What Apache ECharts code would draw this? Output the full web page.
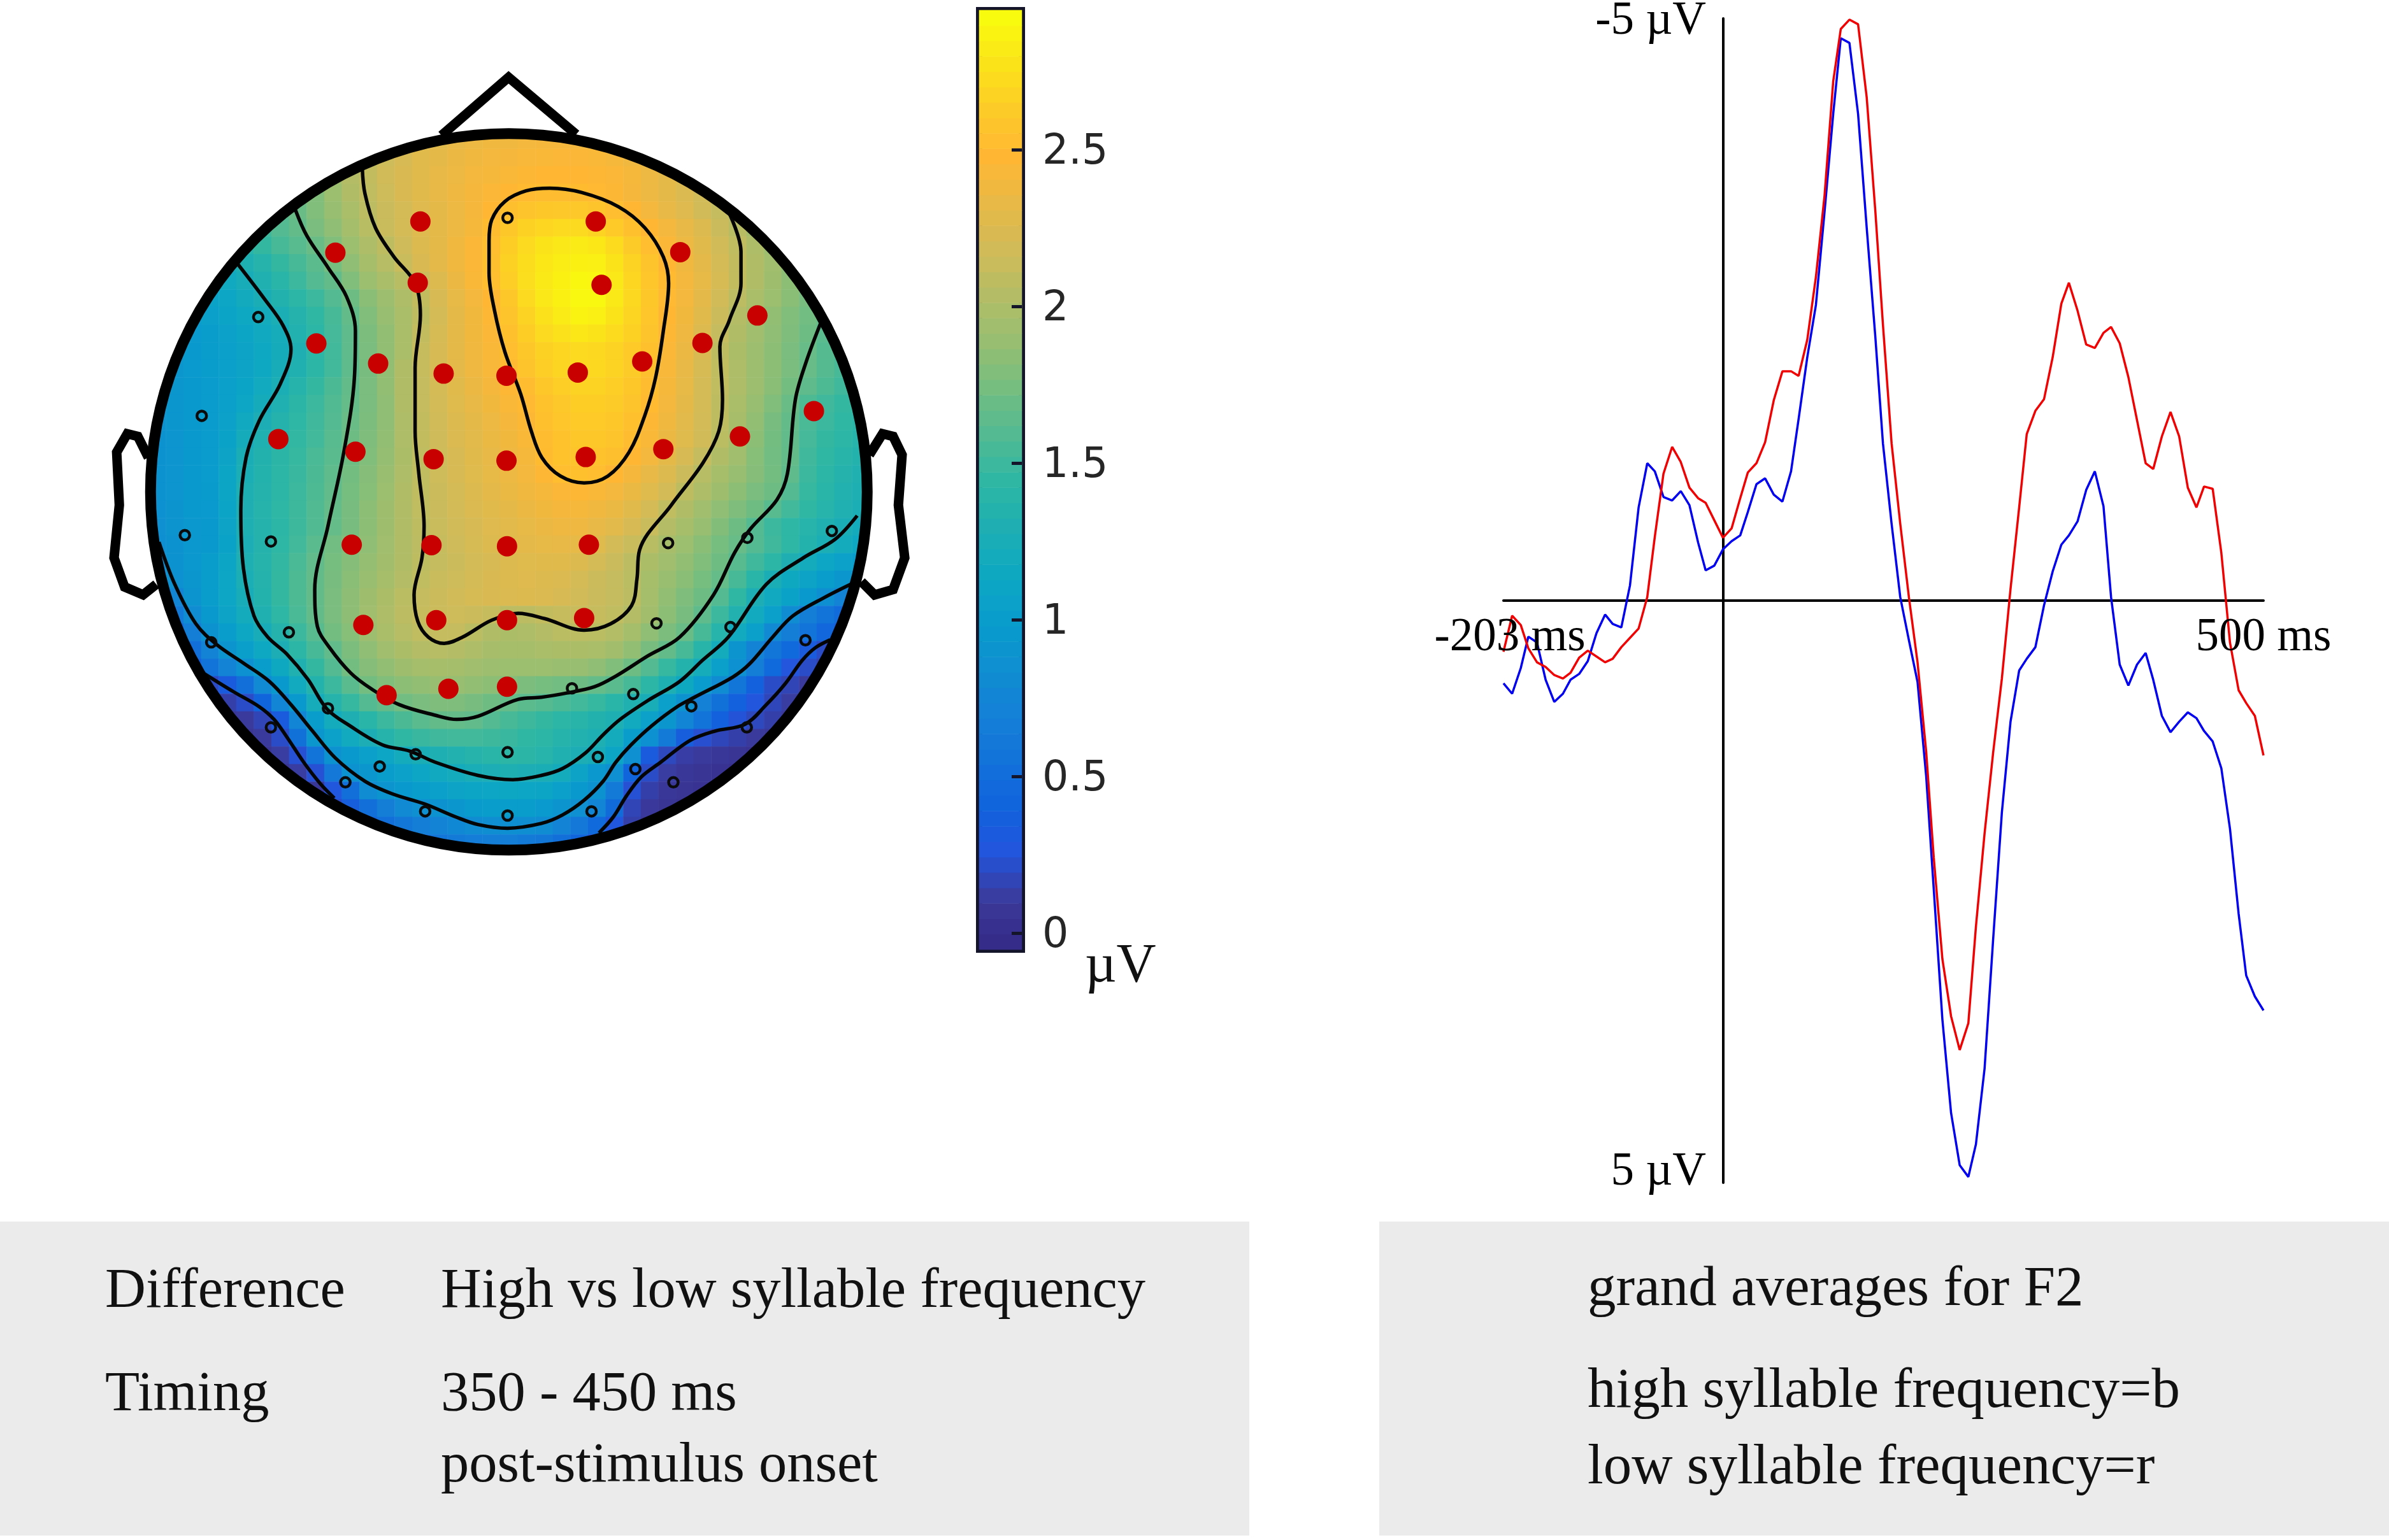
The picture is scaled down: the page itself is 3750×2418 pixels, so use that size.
<!DOCTYPE html>
<html><head><meta charset="utf-8">
<script src="https://cdn.jsdelivr.net/npm/echarts@6/dist/echarts.min.js"></script>
<style>html,body{margin:0;padding:0;background:#fff}#c{width:3750px;height:2418px}</style>
</head><body><div id="c"></div>
<script>
// ---------- ERP traces (µV, negative up) ----------
const times=[-203,-195,-187,-180,-172,-164,-156,-148,-141,-133,-125,-117,-109,-102,-94,-86,-78,-70,-63,-55,-47,-39,-31,-23,-16,-8,0,8,16,23,31,39,47,55,63,70,78,86,94,102,109,117,125,133,141,148,156,164,172,180,188,195,203,211,219,227,234,242,250,258,266,274,281,289,297,305,313,320,328,336,344,352,359,367,375,383,391,398,406,414,422,430,438,445,453,461,469,477,484,492,500];
const lowFreq=[0.44,0.13,0.21,0.41,0.53,0.57,0.64,0.67,0.62,0.49,0.43,0.48,0.53,0.50,0.40,0.32,0.24,-0.03,-0.55,-1.09,-1.32,-1.19,-0.97,-0.88,-0.84,-0.69,-0.54,-0.62,-0.88,-1.10,-1.18,-1.36,-1.72,-1.97,-1.97,-1.93,-2.24,-2.78,-3.48,-4.46,-4.91,-4.99,-4.95,-4.32,-3.34,-2.37,-1.35,-0.66,-0.03,0.53,1.30,2.21,3.08,3.57,3.86,3.63,2.80,2.00,1.30,0.67,-0.10,-0.80,-1.43,-1.63,-1.73,-2.09,-2.55,-2.73,-2.49,-2.20,-2.17,-2.30,-2.35,-2.21,-1.92,-1.55,-1.18,-1.13,-1.41,-1.62,-1.41,-0.97,-0.80,-0.98,-0.96,-0.41,0.36,0.77,0.88,0.99,1.33];
const highFreq=[0.71,0.80,0.58,0.31,0.36,0.68,0.87,0.80,0.68,0.63,0.52,0.28,0.12,0.20,0.23,-0.13,-0.80,-1.18,-1.11,-0.89,-0.86,-0.94,-0.82,-0.50,-0.26,-0.30,-0.44,-0.51,-0.56,-0.76,-1.00,-1.05,-0.91,-0.85,-1.11,-1.56,-2.09,-2.54,-3.34,-4.18,-4.83,-4.79,-4.18,-3.20,-2.26,-1.35,-0.66,-0.03,0.34,0.70,1.51,2.48,3.60,4.40,4.85,4.95,4.67,4.02,2.90,1.82,1.04,0.60,0.50,0.40,0.04,-0.25,-0.48,-0.56,-0.68,-0.95,-1.11,-0.81,-0.03,0.55,0.73,0.55,0.45,0.68,0.99,1.13,1.04,0.96,1.01,1.12,1.21,1.44,1.96,2.69,3.22,3.40,3.52];
const timeLabels=[-203,500];
const voltLabels=[-5,5];
// ---------- Scalp field (hundredths of µV), rows top to bottom, each centred on the midline ----------
const fieldRows=[
[220,225,230,235,238,240,240,242,243,243,242,240,238],
[205,212,218,224,230,233,237,240,242,243,245,246,247,247,246,244,240,236,233],
[185,195,205,212,220,225,230,235,238,242,244,246,248,250,250,250,249,247,244,238,233,228,222],
[172,180,192,203,211,218,225,230,235,239,243,247,250,252,254,254,253,251,248,243,238,233,226,220,213],
[155,162,170,180,190,200,209,216,222,228,233,238,243,250,256,260,262,263,263,260,255,250,242,235,228,220,213,205,197],
[145,152,160,167,177,187,197,207,215,222,228,233,238,244,253,262,268,272,274,274,270,264,257,250,242,235,227,216,207,198,188],
[130,138,147,155,162,170,180,192,202,210,219,227,233,240,247,255,266,274,280,283,285,282,275,265,255,247,238,230,220,211,202,193,185],
[115,122,129,137,147,155,164,175,187,198,206,215,225,232,240,247,256,268,276,282,286,289,288,280,270,260,250,240,232,222,212,203,195,185,177],
[110,117,124,132,140,150,160,167,180,192,200,207,217,227,237,246,255,267,277,284,289,292,291,283,272,261,252,242,234,223,212,203,194,185,175],
[100,106,112,119,126,134,142,150,160,171,184,193,202,212,224,234,242,250,262,274,283,289,293,293,284,273,262,251,242,232,220,209,200,192,184,176,168],
[95,98,103,109,114,120,127,136,145,155,167,180,190,200,210,222,233,241,249,260,270,279,285,290,288,280,271,261,250,241,230,217,205,197,188,180,173,166,160],
[93,96,100,105,110,116,122,133,143,154,165,178,188,200,212,223,233,241,247,257,266,274,279,282,280,275,268,260,249,239,227,213,203,195,187,179,171,163,157],
[90,92,95,99,103,108,114,121,130,142,153,165,177,188,200,214,224,233,240,246,255,262,268,272,274,273,269,264,257,247,237,225,210,201,193,185,177,169,161,155,150],
[90,93,96,100,103,107,114,124,132,142,153,165,176,188,203,214,223,232,239,245,251,260,267,271,273,273,270,265,256,245,235,223,211,202,193,185,177,169,161,155,149],
[90,92,95,98,103,109,118,127,137,147,157,167,177,188,203,213,222,230,237,243,249,254,262,267,269,269,267,262,254,244,234,222,211,202,193,184,174,165,158,152,147],
[89,92,95,98,104,111,121,131,141,150,159,168,177,187,203,213,221,229,235,241,246,251,258,263,266,266,265,260,252,242,233,222,210,200,190,180,170,158,152,147,144],
[89,92,95,98,105,117,128,136,144,152,160,170,178,187,202,212,220,227,233,238,243,248,257,261,264,264,262,257,249,240,231,221,210,199,188,176,167,156,150,145,141],
[88,91,95,98,106,121,131,138,146,153,162,171,179,188,202,212,219,226,231,236,241,246,254,259,262,262,260,254,246,237,229,220,208,197,185,174,166,154,147,142,138],
[88,91,95,98,108,126,134,141,148,156,163,172,180,189,201,211,218,224,230,235,239,244,253,258,260,259,256,250,242,233,224,213,203,195,183,173,167,152,145,139,135],
[87,91,95,98,110,127,135,142,149,157,165,174,182,191,202,211,218,224,229,234,238,242,249,255,257,255,250,243,235,227,217,206,198,190,182,174,165,150,143,136,132],
[87,91,95,97,110,129,136,143,150,158,166,175,183,192,203,211,217,222,227,232,236,240,244,247,249,246,242,236,229,221,210,202,194,185,177,171,160,148,140,133,129],
[86,90,95,96,109,130,137,144,151,159,168,176,185,194,203,211,216,221,226,230,233,237,241,243,244,240,236,230,222,211,203,195,187,179,172,162,153,145,138,131,127],
[85,90,94,95,107,129,136,143,151,159,168,176,185,194,203,210,215,220,224,228,231,234,237,239,239,235,231,224,215,205,198,190,181,171,160,150,144,138,132,126,120],
[84,89,94,95,106,128,136,144,153,163,173,180,187,195,203,209,214,219,223,227,230,232,234,235,234,229,221,215,207,199,192,184,175,169,160,152,144,135,127,120,114],
[82,88,94,100,110,129,137,146,156,166,175,182,189,196,203,210,213,217,221,224,227,229,230,230,227,222,216,209,201,195,188,180,172,162,152,143,130,120,112,105,100],
[69,86,93,100,112,127,136,147,158,167,176,184,191,198,205,211,215,218,222,225,227,228,227,226,222,217,213,208,198,191,184,175,168,155,140,126,115,107,100,92,84],
[57,75,90,100,112,124,135,147,158,167,177,186,194,201,208,213,217,220,223,225,226,227,226,224,220,216,213,209,197,188,179,171,160,145,128,117,106,95,84,72,63],
[46,63,81,95,108,120,132,144,156,167,177,186,195,202,209,214,217,218,217,214,209,209,212,214,215,214,211,205,196,185,176,165,150,133,118,104,81,66,56,47,41],
[34,48,66,88,100,113,124,136,150,162,174,183,193,200,206,211,213,213,208,203,201,202,205,208,209,208,204,197,187,178,170,155,138,118,103,78,66,56,43,34,28],
[37,51,72,90,102,114,128,142,155,166,178,187,195,201,205,206,205,202,199,198,198,200,201,201,200,196,188,176,167,155,139,120,90,72,57,46,31,19,14],
[22,37,56,72,86,100,115,132,147,160,174,182,188,194,197,198,197,195,193,192,192,192,191,190,187,180,171,160,148,135,122,103,86,66,46,24,19,14,9],
[14,18,31,51,78,95,118,135,150,163,174,180,185,188,190,190,188,185,182,178,175,173,171,168,163,155,143,129,115,98,81,57,37,19,15,9,5],
[7,12,19,41,75,95,122,137,148,160,167,173,177,179,179,176,172,168,164,161,157,153,148,140,132,125,103,87,68,53,37,25,16,10,6],
[4,6,9,15,31,75,100,120,130,140,150,157,163,167,168,166,160,155,151,147,143,139,134,129,118,105,92,75,56,37,23,17,12,8,4],
[4,5,9,19,53,92,105,118,128,137,145,149,152,153,153,151,149,145,142,137,133,129,120,100,86,63,34,21,16,12,9,6,4],
[4,5,10,22,56,88,95,103,112,120,126,129,133,137,140,142,141,138,132,128,124,110,85,31,17,11,9,6,4,2,0],
[2,4,10,22,60,87,93,100,105,111,116,120,125,128,129,128,126,120,108,94,85,41,19,10,6,4,2,0,0],
[2,7,26,51,81,90,95,100,104,107,110,112,113,112,110,104,95,87,63,22,12,7,4,2,0],
[8,18,34,51,66,78,85,89,93,97,99,100,99,96,90,85,75,48,15,8,4,1,0],
[34,43,51,59,66,72,77,81,83,84,83,81,72,60,46,26,12,5,2],
[46,51,57,62,65,66,66,63,59,51,41,22,12]
];
// ---------- Contours and head outline, in scalp-map units ----------
const contourA=[[745,360],[750,320],[775,285],[815,265],[860,260],[920,268],[990,295],[1040,335],[1075,390],[1085,440],[1075,530],[1060,620],[1040,690],[1010,760],[970,805],[925,818],[880,805],[845,770],[825,720],[805,650],[775,570],[755,490],[745,420],[745,360]];
const contourB=[[505,222],[510,270],[530,335],[565,390],[605,440],[615,500],[605,600],[605,720],[612,800],[622,900],[618,960],[603,1030],[610,1080],[630,1110],[660,1122],[695,1110],[750,1078],[800,1065],[850,1075],[925,1097],[975,1085],[1015,1050],[1025,1000],[1030,945],[1090,860],[1150,780],[1180,720],[1187,660],[1182,560],[1200,510],[1222,440],[1222,380],[1200,308]];
const contourC=[[378,300],[400,350],[440,410],[475,465],[492,530],[490,620],[470,760],[440,900],[415,1020],[420,1090],[443,1130],[483,1178],[522,1208],[575,1238],[643,1258],[684,1266],[724,1260],[800,1228],[844,1224],[892,1216],[945,1204],[985,1184],[1045,1146],[1106,1110],[1170,1030],[1210,950],[1240,905],[1290,850],[1310,800],[1325,660],[1345,590],[1375,510]];
const contourD=[[268,402],[320,470],[355,520],[370,565],[350,630],[310,700],[285,770],[275,870],[280,980],[300,1070],[326,1110],[362,1142],[402,1190],[438,1246],[483,1279],[543,1314],[595,1326],[643,1347],[724,1372],[790,1380],[844,1372],[884,1359],[928,1329],[961,1295],[993,1266],[1046,1230],[1106,1194],[1149,1154],[1198,1110],[1270,1010],[1340,960],[1400,925],[1442,880]];
const contourE=[[120,930],[150,1010],[190,1085],[229,1124],[281,1160],[329,1194],[370,1238],[410,1287],[454,1339],[510,1383],[562,1407],[623,1426],[683,1451],[724,1465],[780,1472],[844,1463],[884,1447],[925,1419],[961,1383],[985,1347],[1013,1315],[1053,1278],[1101,1242],[1134,1224],[1206,1186],[1238,1161],[1282,1110],[1320,1070],[1380,1035],[1440,1005]];
const contourF1=[[207,1180],[262,1214],[310,1242],[338,1266],[362,1299],[394,1347],[425,1387],[452,1415]];
const contourF2=[[953,1481],[980,1451],[1005,1411],[1033,1375],[1070,1347],[1125,1306],[1173,1288],[1230,1275],[1270,1238],[1306,1198],[1338,1154],[1363,1130],[1391,1115]];
const nose=[[655,160],[782,50],[910,158]];
const earLeft=[[100,770],[80,730],[60,725],[40,760],[45,860],[35,960],[55,1015],[90,1030],[115,1010]];
const earRight=[[1465,765],[1490,725],[1510,730],[1527,765],[1520,860],[1532,960],[1510,1020],[1475,1030],[1450,1005]];
const headCentre=[[782.5,835]];
const sigElectrodes=[[615,323],[947,323],[454,382],[1107,381],[610,439],[958,443],[1253,501],[418,554],[1149,553],[535,592],[659,611],[778,615],[913,609],[1035,588],[1360,682],[346,735],[1220,730],[492,759],[640,773],[778,776],[928,769],[1075,754],[485,935],[636,936],[779,938],[934,935],[507,1087],[645,1078],[779,1078],[925,1074],[551,1220],[668,1208],[779,1204]];
const otherElectrodes=[[780,316],[308,504],[201,691],[169,917],[332,929],[366,1101],[219,1120],[1084,932],[1234,922],[1394,909],[1062,1084],[1202,1091],[1344,1116],[902,1207],[1018,1218],[1128,1241],[1233,1281],[440,1245],[332,1281],[606,1332],[780,1328],[951,1337],[1022,1360],[1094,1385],[538,1355],[473,1385],[624,1440],[780,1448],[939,1440]];
// ---------- Colour bar ----------
const barLevels=[-0.05,0,0.05,0.1,0.15,0.2,0.25,0.3,0.35,0.4,0.45,0.5,0.55,0.6,0.65,0.7,0.75,0.8,0.85,0.9,0.95,1,1.05,1.1,1.15,1.2,1.25,1.3,1.35,1.4,1.45,1.5,1.55,1.6,1.65,1.7,1.75,1.8,1.85,1.9,1.95,2,2.05,2.1,2.15,2.2,2.25,2.3,2.35,2.4,2.45,2.5,2.55,2.6,2.65,2.7,2.75,2.8,2.85,2.9,2.95];
const barTicks=[0,0.5,1,1.5,2,2.5];
const parula=['#352a87','#3a3a9c','#2355dd','#1063dc','#1272d9','#1481d6','#0e8fd1','#099dcc','#0ea8c2','#1eafb3','#2eb7a4','#52ba92','#75bd80','#96be71','#b3bd65','#d1bb59','#e8b946','#ffb733','#fdcb27','#fbe31a','#f9fb0e'];

const SERIF='"Liberation Serif"';
const heatCells=[];
fieldRows.forEach((row,r)=>{const s=(41-row.length)>>1;row.forEach((v,i)=>heatCells.push([s+i,r,v/100]));});
const idx=n=>Array.from({length:n},(_,i)=>i);
const outline=(data,w)=>({type:'line',xAxisIndex:1,yAxisIndex:1,data,symbol:'none',silent:true,z:6,lineStyle:{color:'#000',width:w,join:'miter',cap:'butt'}});
const contour=d=>({type:'line',xAxisIndex:1,yAxisIndex:1,data:d,symbol:'none',smooth:0.35,silent:true,z:5,lineStyle:{color:'#050505',width:5.5}});
const txt=(text,x,y,size)=>({type:'text',x,y,z:10,style:{text,fontFamily:SERIF,fontSize:size,fill:'#111',verticalAlign:'middle',align:'left'}});
const erpLabel=(data,position,distance,fmt)=>({type:'scatter',xAxisIndex:3,yAxisIndex:4,data,symbolSize:1,clip:false,silent:true,z:8,itemStyle:{color:'#fff',opacity:0},label:{show:true,position,distance,formatter:fmt,fontFamily:SERIF,fontSize:73,color:'#000',opacity:1}});

const chart=echarts.init(document.getElementById('c'),null,{renderer:'canvas'});
chart.setOption({
 animation:false,backgroundColor:'#fff',
 grid:[
  {left:233,top:206,width:1132,height:1132},
  {left:150,top:80,width:1300,height:1300},
  {left:1537,top:16,width:67,height:1475,show:true,borderColor:'#14142a',borderWidth:10,backgroundColor:'transparent'},
  {left:2360,top:29,width:1193,height:1828}
 ],
 xAxis:[
  {type:'category',gridIndex:0,data:idx(41),show:false},
  {type:'value',gridIndex:1,min:0,max:1568,show:false},
  {type:'category',gridIndex:2,data:['µV'],show:false},
  {type:'value',gridIndex:3,min:-203,max:500,splitLine:{show:false},
   axisLine:{onZero:true,lineStyle:{color:'#000',width:4}},axisTick:{show:false},axisLabel:{show:false}}
 ],
 yAxis:[
  {type:'category',gridIndex:0,data:idx(41),inverse:true,show:false},
  {type:'value',gridIndex:1,min:0,max:1568,inverse:true,show:false},
  {type:'category',gridIndex:2,data:barLevels,show:false},
  {type:'value',gridIndex:2,position:'right',z:5,min:-0.053,max:2.945,splitLine:{show:false},axisLine:{show:false},
   axisTick:{show:true,inside:true,length:16,customValues:barTicks,lineStyle:{color:'#14142a',width:5}},
   axisLabel:{customValues:barTicks,formatter:v=>'{a|'+v+'}',margin:32,
    rich:{a:{fontFamily:'"DejaVu Sans"',fontSize:65,color:'#262626',padding:[10,0,0,0]}}}},
  {type:'value',gridIndex:3,min:-5,max:5,inverse:true,splitLine:{show:false},
   axisLine:{onZero:true,lineStyle:{color:'#000',width:4}},axisTick:{show:false},axisLabel:{show:false}}
 ],
 visualMap:[{type:'continuous',show:false,min:-0.06,max:2.95,dimension:2,seriesIndex:[0,1],inRange:{color:parula}}],
 series:[
  {type:'heatmap',xAxisIndex:0,yAxisIndex:0,data:heatCells,silent:true,progressive:0,z:2},
  {type:'heatmap',xAxisIndex:2,yAxisIndex:2,data:barLevels.map((v,i)=>[0,i,v]),silent:true,progressive:0,z:2},
  // white ring trims the scalp cells to the head disc, then the black head outline
  {type:'scatter',xAxisIndex:1,yAxisIndex:1,data:headCentre,symbol:'circle',symbolSize:1226,silent:true,z:3,itemStyle:{color:'transparent',borderColor:'#fff',borderWidth:110,opacity:1}},
  {type:'scatter',xAxisIndex:1,yAxisIndex:1,data:headCentre,symbol:'circle',symbolSize:1125,silent:true,z:6,itemStyle:{color:'transparent',borderColor:'#000',borderWidth:17,opacity:1}},
  contour(contourA),contour(contourB),contour(contourC),contour(contourD),contour(contourE),contour(contourF1),contour(contourF2),
  outline(nose,15),outline(earLeft,15),outline(earRight,15),
  {type:'scatter',xAxisIndex:1,yAxisIndex:1,data:sigElectrodes,symbol:'circle',symbolSize:32,silent:true,z:7,itemStyle:{color:'#c80000',opacity:1}},
  {type:'scatter',xAxisIndex:1,yAxisIndex:1,data:otherElectrodes,symbol:'circle',symbolSize:15,silent:true,z:7,itemStyle:{color:'transparent',borderColor:'#0a0a0a',borderWidth:4.5,opacity:1}},
  {type:'line',name:'high syllable frequency',xAxisIndex:3,yAxisIndex:4,data:times.map((t,i)=>[t,highFreq[i]]),symbol:'none',silent:true,z:4,lineStyle:{color:'#0000f0',width:3.5}},
  {type:'line',name:'low syllable frequency',xAxisIndex:3,yAxisIndex:4,data:times.map((t,i)=>[t,lowFreq[i]]),symbol:'none',silent:true,z:4,lineStyle:{color:'#f00000',width:3.5}},
  erpLabel(timeLabels.map(t=>({value:[t,0],label:{offset:[t<0?10:0,4]}})),'bottom',18,p=>p.value[0]+' ms'),
  erpLabel(voltLabels.map(v=>({value:[0,v],label:{offset:[0,v>0?-16:5]}})),'left',26,p=>p.value[1]+' µV')
 ],
 graphic:[
  {type:'rect',z:-1,shape:{x:0,y:1918,width:1961,height:493},style:{fill:'#ebebeb'}},
  {type:'rect',z:-1,shape:{x:2165,y:1918,width:1585,height:493},style:{fill:'#ebebeb'}},
  txt('µV',1703,1518,86),
  txt('Difference',165,2029,88.5),
  txt('High vs low syllable frequency',692,2029,88.5),
  txt('Timing',165,2191,88.5),
  txt('350 - 450 ms',692,2191,88.5),
  txt('post-stimulus onset',692,2303,88.5),
  txt('grand averages for F2',2492,2026,89),
  txt('high syllable frequency=b',2492,2186,89),
  txt('low syllable frequency=r',2492,2306,89)
 ]
});
</script></body></html>
